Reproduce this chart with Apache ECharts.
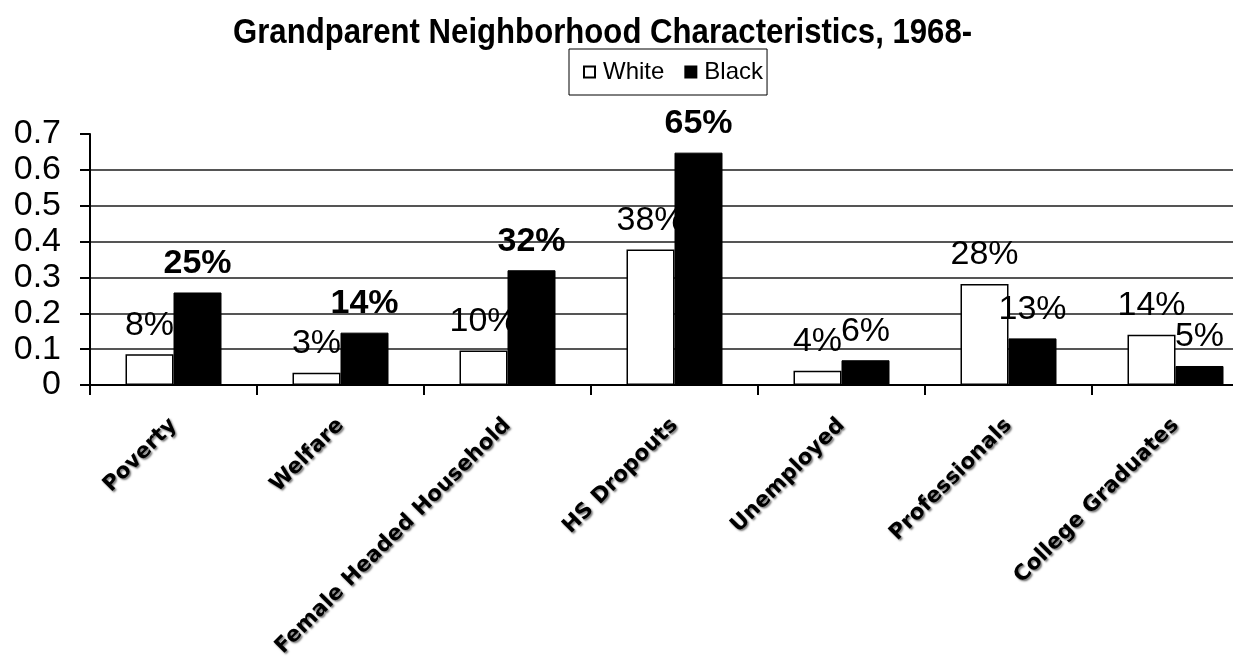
<!DOCTYPE html>
<html>
<head>
<meta charset="utf-8">
<script src="https://cdn.jsdelivr.net/npm/echarts@6/dist/echarts.min.js"></script>
<style>
html,body{margin:0;padding:0;background:#fff;}
#chart{width:1233px;height:660px;}
</style>
</head>
<body>
<div id="chart"></div>
<script>
const categories = ['Poverty', 'Welfare', 'Female Headed Household', 'HS Dropouts', 'Unemployed', 'Professionals', 'College Graduates'];
const whiteValues = [0.086, 0.034, 0.096, 0.378, 0.040, 0.282, 0.140];
const blackValues = [0.258, 0.146, 0.320, 0.648, 0.069, 0.130, 0.053];
const whiteLabels = ['8%', '3%', '10%', '38%', '4%', '28%', '14%'];
const blackLabels = ['25%', '14%', '32%', '65%', '6%', '13%', '5%'];
const seriesNames = ['White', 'Black'];
const titleText = 'Grandparent Neighborhood Characteristics, 1968-';

const boldBlackIdx = [0, 1, 2, 3];
const labelFont = 'Liberation Sans, Arial, sans-serif';

const chart = echarts.init(document.getElementById('chart'), null, {renderer: 'canvas'});

const option = {
  animation: false,
  backgroundColor: '#fff',
  graphic: [{
    type: 'text',
    x: 233,
    y: 16,
    scaleX: 0.89,
    style: {
      text: titleText,
      font: 'bold 35px Liberation Sans, Arial, sans-serif',
      fill: '#000',
      textVerticalAlign: 'top'
    }
  }],
  legend: {
    data: seriesNames,
    left: 569,
    top: 49,
    padding: [11, 4, 11, 14],
    borderColor: '#000',
    borderWidth: 1,
    itemWidth: 11,
    itemHeight: 11,
    itemGap: 20,
    icon: 'rect',
    textStyle: {fontFamily: labelFont, fontSize: 24, color: '#000', padding: [0, 0, 0, 3]}
  },
  grid: {left: 90, width: 1169, top: 134, bottom: 275, containLabel: false, outerBoundsMode: 'none'},
  xAxis: {
    type: 'category',
    data: categories,
    axisLine: {lineStyle: {color: '#000', width: 2}},
    axisTick: {show: true, length: 10, lineStyle: {color: '#000', width: 2}},
    axisLabel: {
      rotate: 45,
      interval: 0,
      margin: 37,
      fontFamily: 'DejaVu Sans, Verdana, sans-serif',
      fontWeight: 'bold',
      fontSize: 21.5,
      color: '#000',
      textShadowColor: 'rgba(0,0,0,0.55)',
      textShadowBlur: 2,
      textShadowOffsetX: 1.5,
      textShadowOffsetY: 1.5
    }
  },
  yAxis: {
    type: 'value',
    min: 0,
    max: 0.7,
    interval: 0.1,
    axisLine: {show: true, lineStyle: {color: '#000', width: 2}},
    axisTick: {show: true, length: 10, lineStyle: {color: '#000', width: 2}},
    axisLabel: {
      margin: 29,
      fontFamily: labelFont,
      fontSize: 34,
      color: '#000',
      formatter: v => String(+v.toFixed(1))
    },
    splitLine: {
      show: true,
      lineStyle: {
        color: ['#555', '#555', '#555', '#555', '#555', '#555', '#555', 'rgba(0,0,0,0)'],
        width: 2
      }
    }
  },
  series: [
    {
      name: seriesNames[0],
      type: 'bar',
      data: whiteValues,
      barWidth: 48,
      barGap: '0%',
      z: 2,
      itemStyle: {color: '#fff', borderColor: '#000', borderWidth: 1.5},
      label: {
        show: true,
        position: 'top',
        distance: 12,
        fontFamily: labelFont,
        fontSize: 34,
        color: '#000',
        formatter: p => whiteLabels[p.dataIndex]
      }
    },
    {
      name: seriesNames[1],
      type: 'bar',
      data: blackValues.map((v, i) => boldBlackIdx.includes(i) ? {value: v, label: {fontWeight: 'bold'}} : v),
      barWidth: 48,
      barGap: '0%',
      z: 3,
      itemStyle: {color: '#000', borderColor: '#000', borderWidth: 1},
      label: {
        show: true,
        position: 'top',
        distance: 12,
        fontFamily: labelFont,
        fontSize: 34,
        color: '#000',
        formatter: p => blackLabels[p.dataIndex]
      }
    }
  ]
};

chart.setOption(option);
</script>
</body>
</html>
